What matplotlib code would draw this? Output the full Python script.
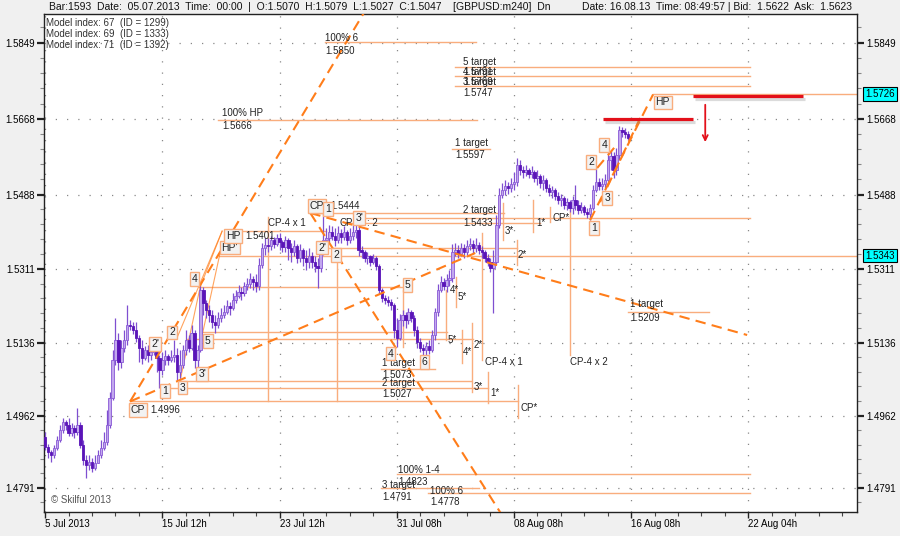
import numpy as np
import matplotlib.pyplot as plt
import matplotlib.patheffects as pe
from matplotlib.ticker import FixedLocator

plt.rcParams['font.family'] = ['Liberation Sans', 'DejaVu Sans']
plt.rcParams['font.size'] = 7

# ---- price bars (H4 GBPUSD) ----
first_open = 1.4911
close = [
    1.4888, 1.4876, 1.4869, 1.4885, 1.4904, 1.4928, 1.4947, 1.4940, 1.4921, 1.4933,
    1.4923, 1.4940, 1.4893, 1.4857, 1.4845, 1.4852, 1.4838, 1.4850, 1.4869, 1.4885,
    1.4900, 1.4940, 1.5004, 1.5095, 1.5142, 1.5090, 1.5123, 1.5142, 1.5178, 1.5175,
    1.5166, 1.5147, 1.5123, 1.5099, 1.5118, 1.5107, 1.5114, 1.5130, 1.5099, 1.5071,
    1.5095, 1.5104, 1.5095, 1.5102, 1.5107, 1.5066, 1.5083, 1.5118, 1.5142, 1.5123,
    1.5159, 1.5095, 1.5118, 1.5261, 1.5230, 1.5213, 1.5202, 1.5185, 1.5178, 1.5194,
    1.5202, 1.5209, 1.5223, 1.5218, 1.5237, 1.5247, 1.5256, 1.5254, 1.5271, 1.5275,
    1.5287, 1.5280, 1.5271, 1.5320, 1.5361, 1.5368, 1.5366, 1.5380, 1.5370, 1.5385,
    1.5375, 1.5363, 1.5380, 1.5361, 1.5351, 1.5366, 1.5337, 1.5356, 1.5337, 1.5328,
    1.5342, 1.5328, 1.5318, 1.5313, 1.5351, 1.5380, 1.5385, 1.5399, 1.5390, 1.5380,
    1.5397, 1.5387, 1.5399, 1.5380, 1.5390, 1.5399, 1.5404, 1.5356, 1.5351, 1.5337,
    1.5342, 1.5328, 1.5337, 1.5318, 1.5261, 1.5242, 1.5237, 1.5233, 1.5225, 1.5166,
    1.5147, 1.5190, 1.5202, 1.5190, 1.5209, 1.5194, 1.5166, 1.5137, 1.5123, 1.5118,
    1.5128, 1.5118, 1.5154, 1.5209, 1.5261, 1.5280, 1.5271, 1.5285, 1.5290, 1.5351,
    1.5356, 1.5347, 1.5361, 1.5351, 1.5366, 1.5370, 1.5361, 1.5368, 1.5356, 1.5351,
    1.5337, 1.5328, 1.5313, 1.5328, 1.5416, 1.5487, 1.5499, 1.5508, 1.5504, 1.5513,
    1.5518, 1.5558, 1.5546, 1.5542, 1.5546, 1.5537, 1.5542, 1.5527, 1.5532, 1.5516,
    1.5523, 1.5504, 1.5494, 1.5499, 1.5485, 1.5475, 1.5480, 1.5463, 1.5470, 1.5456,
    1.5475, 1.5463, 1.5451, 1.5458, 1.5447, 1.5442, 1.5456, 1.5499, 1.5518, 1.5508,
    1.5513, 1.5523, 1.5570, 1.5580, 1.5546, 1.5582, 1.5641, 1.5637, 1.5632, 1.5622,
]
high = [
    1.4923, 1.4895, 1.4881, 1.4893, 1.4914, 1.4940, 1.4957, 1.4952, 1.4957, 1.4945,
    1.4940, 1.4981, 1.4947, 1.4904, 1.4869, 1.4869, 1.4862, 1.4869, 1.4881, 1.4904,
    1.4923, 1.4976, 1.5018, 1.5118, 1.5194, 1.5159, 1.5142, 1.5166, 1.5225, 1.5190,
    1.5185, 1.5185, 1.5154, 1.5142, 1.5128, 1.5130, 1.5128, 1.5142, 1.5135, 1.5107,
    1.5114, 1.5118, 1.5109, 1.5118, 1.5142, 1.5123, 1.5118, 1.5130, 1.5166, 1.5154,
    1.5178, 1.5166, 1.5130, 1.5273, 1.5268, 1.5237, 1.5225, 1.5213, 1.5202, 1.5209,
    1.5218, 1.5225, 1.5237, 1.5233, 1.5254, 1.5261, 1.5273, 1.5268, 1.5280, 1.5290,
    1.5301, 1.5294, 1.5299, 1.5337, 1.5373, 1.5385, 1.5385, 1.5390, 1.5387, 1.5394,
    1.5397, 1.5380, 1.5390, 1.5385, 1.5373, 1.5380, 1.5370, 1.5370, 1.5361, 1.5356,
    1.5361, 1.5351, 1.5342, 1.5337, 1.5368, 1.5444, 1.5409, 1.5416, 1.5413, 1.5409,
    1.5413, 1.5406, 1.5413, 1.5404, 1.5409, 1.5418, 1.5432, 1.5413, 1.5366, 1.5356,
    1.5351, 1.5344, 1.5347, 1.5342, 1.5323, 1.5266, 1.5249, 1.5247, 1.5240, 1.5230,
    1.5194, 1.5204, 1.5213, 1.5209, 1.5218, 1.5213, 1.5202, 1.5175, 1.5147, 1.5133,
    1.5137, 1.5142, 1.5166, 1.5218, 1.5275, 1.5294, 1.5290, 1.5299, 1.5309, 1.5370,
    1.5373, 1.5368, 1.5373, 1.5370, 1.5380, 1.5385, 1.5380, 1.5385, 1.5375, 1.5366,
    1.5356, 1.5347, 1.5337, 1.5356, 1.5439, 1.5504, 1.5516, 1.5523, 1.5518, 1.5527,
    1.5542, 1.5575, 1.5570, 1.5556, 1.5558, 1.5551, 1.5556, 1.5546, 1.5546, 1.5537,
    1.5534, 1.5527, 1.5513, 1.5508, 1.5504, 1.5494, 1.5490, 1.5485, 1.5480, 1.5475,
    1.5485, 1.5511, 1.5475, 1.5470, 1.5463, 1.5456, 1.5466, 1.5511, 1.5551, 1.5527,
    1.5527, 1.5537, 1.5589, 1.5594, 1.5589, 1.5599, 1.5651, 1.5649, 1.5646, 1.5639,
]
low = [
    1.4881, 1.4862, 1.4852, 1.4862, 1.4881, 1.4900, 1.4921, 1.4928, 1.4914, 1.4914,
    1.4909, 1.4916, 1.4885, 1.4845, 1.4814, 1.4833, 1.4828, 1.4833, 1.4852, 1.4862,
    1.4881, 1.4893, 1.4933, 1.4999, 1.5083, 1.5071, 1.5076, 1.5114, 1.5130, 1.5166,
    1.5156, 1.5137, 1.5090, 1.5085, 1.5095, 1.5090, 1.5095, 1.5107, 1.5066, 1.5028,
    1.5059, 1.5083, 1.5083, 1.5090, 1.5090, 1.5047, 1.5052, 1.5076, 1.5107, 1.5114,
    1.5118, 1.5076, 1.5066, 1.5114, 1.5202, 1.5194, 1.5185, 1.5171, 1.5159, 1.5171,
    1.5185, 1.5194, 1.5204, 1.5202, 1.5213, 1.5230, 1.5242, 1.5237, 1.5247, 1.5261,
    1.5266, 1.5261, 1.5256, 1.5261, 1.5313, 1.5344, 1.5351, 1.5356, 1.5361, 1.5366,
    1.5356, 1.5351, 1.5351, 1.5332, 1.5328, 1.5342, 1.5325, 1.5328, 1.5318, 1.5309,
    1.5313, 1.5313, 1.5304, 1.5266, 1.5304, 1.5344, 1.5368, 1.5375, 1.5380, 1.5366,
    1.5373, 1.5373, 1.5380, 1.5368, 1.5373, 1.5380, 1.5385, 1.5342, 1.5337, 1.5328,
    1.5323, 1.5318, 1.5323, 1.5309, 1.5252, 1.5233, 1.5228, 1.5223, 1.5213, 1.5147,
    1.5126, 1.5142, 1.5175, 1.5171, 1.5180, 1.5185, 1.5152, 1.5123, 1.5114, 1.5107,
    1.5102, 1.5109, 1.5114, 1.5142, 1.5199, 1.5256, 1.5261, 1.5256, 1.5271, 1.5280,
    1.5342, 1.5337, 1.5342, 1.5337, 1.5344, 1.5356, 1.5347, 1.5351, 1.5347, 1.5337,
    1.5328, 1.5318, 1.5304, 1.5206, 1.5320, 1.5409, 1.5480, 1.5487, 1.5490, 1.5494,
    1.5499, 1.5508, 1.5534, 1.5527, 1.5532, 1.5527, 1.5527, 1.5518, 1.5511, 1.5504,
    1.5499, 1.5494, 1.5485, 1.5480, 1.5475, 1.5466, 1.5461, 1.5454, 1.5451, 1.5447,
    1.5442, 1.5451, 1.5442, 1.5444, 1.5439, 1.5432, 1.5427, 1.5451, 1.5494, 1.5499,
    1.5499, 1.5504, 1.5518, 1.5546, 1.5527, 1.5534, 1.5570, 1.5625, 1.5623, 1.5618,
]

# axis labels
price_ticks = [1.4791, 1.4962, 1.5136, 1.5311, 1.5488, 1.5668, 1.5849]
time_bars = [0, 40, 80, 120, 160, 200, 240]
time_labels = ['5 Jul 2013', '15 Jul 12h', '23 Jul 12h', '31 Jul 08h',
               '08 Aug 08h', '16 Aug 08h', '22 Aug 04h']

# ---- wave model objects (bar index, price) ----
level_price = [1.5850, 1.5791, 1.5769, 1.5747, 1.5726, 1.5666, 1.5597, 1.5444,
               1.5433, 1.5420, 1.5401, 1.5361, 1.5343, 1.5268, 1.5161, 1.5144,
               1.5209, 1.5073, 1.5045, 1.5027, 1.4996, 1.4823, 1.4791, 1.4778]
level_start = [95.5, 140, 140, 140, 207.5, 59, 139, 90.5,
               106.5, 103, 62.5, 94, 59.5, 53, 54, 48.5,
               199, 114.5, 46, 40.5, 29, 120, 114.5, 130.5]
level_end = [147, 240.5, 240.5, 240.5, 285, 147.5, 152, 156.5,
             240.5, 169, 96, 161, 285, 122, 137, 146,
             226.5, 133, 145.5, 151, 161.5, 240.5, 148, 240.5]

vline_bar = [76, 99.7, 122.2, 136.9, 140.3, 142.3, 145.7, 149.1,
             151.2, 161.4, 161.1, 179.2, 156.3, 166.6, 172.4]
vline_top = [1.5435, 1.5344, 1.5261, 1.5261, 1.5292, 1.5166, 1.5183, 1.5397,
             1.5066, 1.5035, 1.5380, 1.5458, 1.5468, 1.5475, 1.5458]
vline_bottom = [1.4996, 1.4996, 1.5126, 1.5142, 1.5220, 1.5088, 1.5018, 1.5095,
                1.4992, 1.4957, 1.5320, 1.5107, 1.5380, 1.5399, 1.5423]

dashed_x0 = [29, 29, 90.5, 90.5, 186, 188.4, 189.4]
dashed_p0 = [1.4996, 1.4996, 1.5444, 1.5444, 1.5427, 1.5551, 1.5470]
dashed_x1 = [112, 146.8, 239.6, 157, 207.5, 194.2, 203.1]
dashed_p1 = [1.5957, 1.5349, 1.5154, 1.4714, 1.5726, 1.5599, 1.5670]

thin_x0 = [45.1, 53.6, 46.1, 52.9]
thin_p0 = [1.5149, 1.5154, 1.5047, 1.5268]
thin_x1 = [60.4, 59.7, 52.9, 60.4]
thin_p1 = [1.5401, 1.5349, 1.5268, 1.5401]

box_text = ['CP', '1', '3', "3'", "2'", '2', '5', '4', "HP'", 'HP',
            'CP', '1', "3'", "2'", '2', '5', '4', '6',
            '1', '3', '2', '4', 'HP']
box_bar = [31.7, 40.8, 46.8, 53.6, 37.5, 43.3, 55.5, 50.9, 63, 64.2,
           92.7, 96.6, 107.2, 94.5, 99.3, 123.7, 117.9, 129.4,
           187.4, 191.8, 186.3, 190.8, 210.8]
box_price = [1.4976, 1.5020, 1.5029, 1.5061, 1.5133, 1.5160, 1.5139, 1.5287, 1.5362, 1.5389,
             1.5461, 1.5454, 1.5432, 1.5362, 1.5344, 1.5273, 1.5110, 1.5090,
             1.5408, 1.5480, 1.5565, 1.5606, 1.5707]

note_text = ['1.4996', '1.5401', '1.5444', 'CP', ': 2', 'CP-4 x 1', 'CP-4 x 1', 'CP-4 x 2',
             '4*', '5*', '5*', '4*', '2*', '3*', '1*', 'CP*', '3*', '1*', 'CP*', '2*',
             '100% 6', '1.5850', '100% HP', '1.5666', '1 target', '1.5597',
             '5 target', '1.5791', '4 target', '1.5769', '3 target', '1.5747',
             '2 target', '1.5433', '1 target', '1.5209', '1 target', '1.5073',
             '2 target', '1.5027', '100% 1-4', '1.4823', '3 target', '1.4791',
             '100% 6', '1.4778']
note_bar = [35.8, 68.3, 97.3, 100.3, 109.9, 76.1, 150.2, 179.2,
            138.2, 140.6, 137.2, 142.7, 146.1, 146.1, 151.9, 162.1, 157, 167.6, 173, 161.4,
            95.6, 95.6, 60.4, 60.4, 139.9, 139.9,
            142.7, 142.7, 142.7, 142.7, 142.7, 142.7,
            142.7, 142.7, 199.7, 199.7, 115, 115,
            115, 115, 120.5, 120.5, 115, 115,
            131.4, 131.4]
note_price = [1.4976, 1.5389, 1.5461, 1.5420, 1.5420, 1.5420, 1.5090, 1.5090,
              1.5261, 1.5244, 1.5142, 1.5114, 1.5130, 1.5030, 1.5016, 1.4980, 1.5401, 1.5420, 1.5432, 1.5344,
              1.5861, 1.5830, 1.5682, 1.5651, 1.5611, 1.5582,
              1.5803, 1.5779, 1.5779, 1.5756, 1.5756, 1.5729,
              1.5452, 1.5420, 1.5228, 1.5194, 1.5087, 1.5059,
              1.5040, 1.5014, 1.4833, 1.4805, 1.4798, 1.4769,
              1.4784, 1.4757]

red_bar0 = [190.5, 221]
red_bar1 = [221, 258.5]
red_price = [1.5667, 1.5722]
arrow_bar = 225.3
arrow_from, arrow_to = 1.5708, 1.5606

marked_prices = [1.5726, 1.5343]

light = '#f9ad7d'
strong = '#ff7d1a'

fig = plt.figure(figsize=(9, 5.36), dpi=100, facecolor='#f0f0f0')
ax = fig.add_axes([44 / 900, 24 / 536, 813 / 900, 498 / 536], facecolor='white')

# candles
c = np.array(close)
o = np.array([first_open] + close[:-1])
hi = np.maximum(np.array(high), np.maximum(o, c))
lo = np.minimum(np.array(low), np.minimum(o, c))
idx = np.arange(len(c))
up = c >= o
b0 = np.minimum(o, c)
b1 = np.maximum(o, c)
ax.vlines(idx, lo, hi, color='#7f4fd0', lw=0.9, zorder=3)
ax.bar(idx[up], b1[up] - b0[up], bottom=b0[up], width=0.8,
       color='#c2a8ee', edgecolor='#8a5ad6', lw=0.6, zorder=4)
ax.bar(idx[~up], b1[~up] - b0[~up], bottom=b0[~up], width=0.8,
       color='#5a14b8', edgecolor='#5a14b8', lw=0.6, zorder=4)

# model levels and verticals
for p, s, e in zip(level_price, level_start, level_end):
    ax.plot([s, e], [p, p], color=light, lw=1.0, zorder=2)
for b, t, bt in zip(vline_bar, vline_top, vline_bottom):
    ax.plot([b, b], [bt, t], color=light, lw=1.0, zorder=2)
for x0, p0, x1, p1 in zip(thin_x0, thin_p0, thin_x1, thin_p1):
    ax.plot([x0, x1], [p0, p1], color=strong, lw=0.8, alpha=0.7, zorder=2)
for x0, p0, x1, p1 in zip(dashed_x0, dashed_p0, dashed_x1, dashed_p1):
    ax.plot([x0, x1], [p0, p1], color=strong, lw=1.5, ls=(0, (5, 3)), zorder=5)

for t, b, p in zip(note_text, note_bar, note_price):
    ax.text(b, p, t, ha='left', va='center', fontsize=7, color='#222', zorder=6)
for t, b, p in zip(box_text, box_bar, box_price):
    ax.text(b, p, t, ha='center', va='center', fontsize=7.5, color='#222', zorder=7,
            bbox=dict(boxstyle='square,pad=0.18', fc='#f2f2f2', ec=light, lw=1.0))

# red marks
shadow = [pe.SimpleLineShadow(offset=(1.5, -2), shadow_color='#888', alpha=0.3), pe.Normal()]
for b0_, b1_, p in zip(red_bar0, red_bar1, red_price):
    ax.plot([b0_, b1_], [p, p], color='#e3101a', lw=2.3, solid_capstyle='butt',
            zorder=8, path_effects=shadow)
ax.annotate('', xy=(arrow_bar, arrow_to), xytext=(arrow_bar, arrow_from),
            arrowprops=dict(arrowstyle='->', color='#e3101a', lw=1.3, mutation_scale=9),
            zorder=8)

# axes
ax.set_xlim(-0.4, 277.1)
ax.set_ylim(1.47332, 1.59172)
ax.set_yticks(price_ticks)
ax.set_yticklabels([f'{v:.4f}' for v in price_ticks])
minors = []
steps = list(price_ticks)
for a, b in zip(steps[:-1], steps[1:]):
    minors += list(np.linspace(a, b, 6)[1:-1])
d = steps[-1] - steps[-2]
minors += [steps[-1] + d * k / 5 for k in range(1, 4)]
d = steps[1] - steps[0]
minors += [steps[0] - d * k / 5 for k in range(1, 2)]
ax.yaxis.set_minor_locator(FixedLocator(minors))
ax.set_xticks(time_bars)
ax.set_xticklabels(time_labels)
for lbl in ax.get_xticklabels():
    lbl.set_ha('left')
ax.xaxis.set_minor_locator(FixedLocator(list(range(0, 280, 8))))

ax.tick_params(axis='y', which='major', left=True, right=True, labelleft=True,
               labelright=True, length=5, width=1.6, color='#222', pad=1.5, labelsize=7)
ax.tick_params(axis='y', which='minor', left=True, right=True, length=3,
               width=0.8, color='#888')
ax.tick_params(axis='x', which='major', length=4, width=1, color='#222',
               labelsize=7, pad=1)
ax.tick_params(axis='x', which='minor', length=3, width=0.8, color='#444')
ax.grid(True, which='major', ls=(0, (1, 8)), color='#888', lw=0.9)
ax.set_axisbelow(True)
for sp in ax.spines.values():
    sp.set_color('#222')
    sp.set_linewidth(1)

for p in marked_prices:
    ax.text(1.01, p, f'{p:.4f}', transform=ax.get_yaxis_transform(), ha='left',
            va='center', fontsize=7, color='#000', zorder=9,
            bbox=dict(boxstyle='square,pad=0.2', fc='#00ffff', ec='#000', lw=0.8))

# overlays
ax.text(0.002, 0.9825, 'Model index: 67  (ID = 1299)', transform=ax.transAxes,
        ha='left', va='center', fontsize=7, color='#333')
ax.text(0.002, 0.9598, 'Model index: 69  (ID = 1333)', transform=ax.transAxes,
        ha='left', va='center', fontsize=7, color='#333')
ax.text(0.002, 0.9378, 'Model index: 71  (ID = 1392)', transform=ax.transAxes,
        ha='left', va='center', fontsize=7, color='#333')
ax.text(0.008, 0.024, '\u00a9 Skilful 2013', transform=ax.transAxes,
        ha='left', va='center', fontsize=7, color='#555')

fig.text(49 / 900, 1 - 7 / 536,
         'Bar:1593  Date:  05.07.2013  Time:  00:00  |  O:1.5070  H:1.5079  '
         'L:1.5027  C:1.5047    [GBPUSD:m240]  Dn',
         ha='left', va='center', fontsize=7.5, color='#111')
fig.text(582 / 900, 1 - 7 / 536,
         'Date: 16.08.13  Time: 08:49:57 | Bid:  1.5622  Ask:  1.5623',
         ha='left', va='center', fontsize=7.5, color='#111')

fig.savefig('out.png', dpi=100, facecolor=fig.get_facecolor())
